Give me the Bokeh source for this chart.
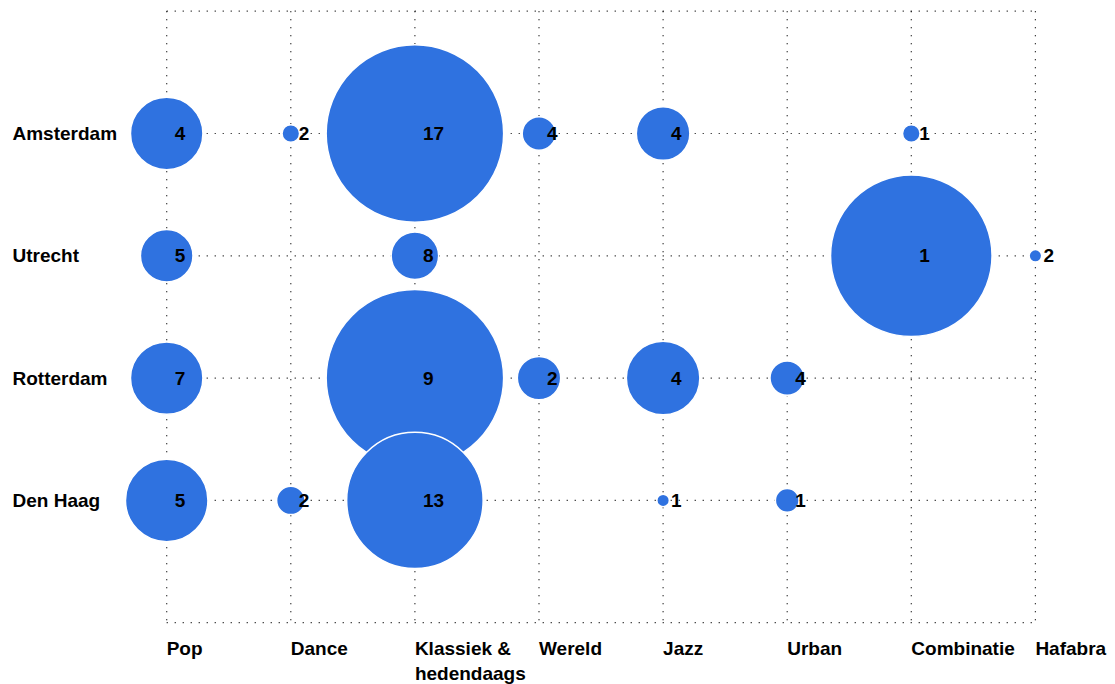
from bokeh.plotting import figure
from bokeh.models import Range1d, ColumnDataSource
from bokeh.core.properties import value
from bokeh.embed import file_html
from bokeh.resources import INLINE
import math

# ---- data ----
genres = ["Pop", "Dance", "Klassiek &\nhedendaags", "Wereld", "Jazz", "Urban", "Combinatie", "Hafabra"]
cities = ["Amsterdam", "Utrecht", "Rotterdam", "Den Haag"]

# number of institutions (labels)
count_amsterdam = [4, 2, 17, 4, 4, None, 1, None]
count_utrecht = [5, None, 8, None, None, None, 1, 2]
count_rotterdam = [7, None, 9, 2, 4, 4, None, None]
count_denhaag = [5, 2, 13, None, 1, 1, None, None]

# bubble size value (estimated amount, area-proportional)
amount_amsterdam = [1.95, 0.10, 12.0, 0.40, 1.05, None, 0.10, None]
amount_utrecht = [1.01, None, 0.82, None, None, None, 9.92, 0.047]
amount_rotterdam = [1.95, None, 12.0, 0.68, 2.01, 0.42, None, None]
amount_denhaag = [2.54, 0.28, 7.06, None, 0.047, 0.19, None, None]

counts = [count_amsterdam, count_utrecht, count_rotterdam, count_denhaag]
amounts = [amount_amsterdam, amount_utrecht, amount_rotterdam, amount_denhaag]

# ---- layout ----
W, H = 1115, 684
x0_px, dx_px = 166.2, 124.1
y0_px, dy_px = 133.0, 122.3
MAX_D = 176.0
max_amount = 12.0
BLUE = "#2F72E0"
FONT = value("Liberation Sans")

p = figure(width=W, height=H, output_backend="svg", toolbar_location=None,
           x_axis_location=None, y_axis_location=None, min_border=0,
           x_range=Range1d(-x0_px / dx_px, (W - x0_px) / dx_px),
           y_range=Range1d((H - y0_px) / dy_px, -y0_px / dy_px))
p.outline_line_color = None
p.grid.visible = False
p.background_fill_color = "white"
p.border_fill_color = "white"

n_g = len(genres)
n_c = len(cities)

# dotted grid
vx = list(range(n_g))
p.segment(x0=vx, y0=[-1] * n_g, x1=vx, y1=[n_c] * n_g,
          line_color="black", line_width=1.2, line_dash="1 7")
hy = [-1] + list(range(n_c)) + [n_c]
p.segment(x0=[0] * len(hy), y0=hy, x1=[n_g - 1] * len(hy), y1=hy,
          line_color="black", line_width=1.2, line_dash="1 7")

# bubbles, row by row
lx, ly, lt = [], [], []
for ci, (cnt, amt) in enumerate(zip(counts, amounts)):
    xs, ys, ss = [], [], []
    for gi in range(n_g):
        if amt[gi] is None:
            continue
        xs.append(gi)
        ys.append(ci)
        ss.append(MAX_D * math.sqrt(amt[gi] / max_amount) + 1.5)
        lx.append(gi)
        ly.append(ci)
        lt.append(str(cnt[gi]))
    src = ColumnDataSource(dict(x=xs, y=ys, s=ss))
    p.scatter("x", "y", size="s", source=src, fill_color=BLUE,
              line_color="white", line_width=1.5)

# count labels
p.text(x=lx, y=ly, text=lt, text_font=FONT, text_font_style="bold",
       text_font_size="19px", text_align="left", text_baseline="middle",
       x_offset=8, text_color="black")

# city labels
p.text(x=[0] * n_c, y=list(range(n_c)), text=cities, text_font=FONT,
       text_font_style="bold", text_font_size="19px", text_align="left",
       text_baseline="middle", x_offset=12 - x0_px, text_color="black")

# genre labels
p.text(x=list(range(n_g)), y=[n_c] * n_g, text=genres, text_font=FONT,
       text_font_style="bold", text_font_size="19px", text_align="left",
       text_baseline="top", y_offset=15, text_color="black",
       text_line_height=1.2)

open("out.html", "w").write(file_html(p, INLINE))
